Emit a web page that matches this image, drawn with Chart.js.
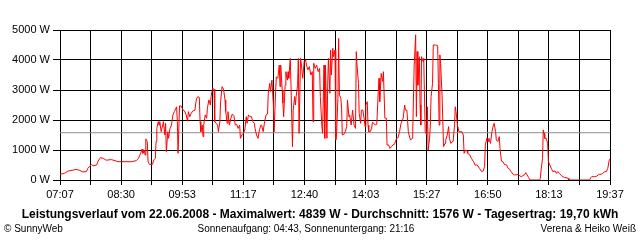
<!DOCTYPE html>
<html>
<head>
<meta charset="utf-8">
<script src="https://cdn.jsdelivr.net/npm/chart.js@4.4.0/dist/chart.umd.min.js"></script>
<style>
  body { margin: 0; background: #fff; }
</style>
</head>
<body>
<canvas id="powerChart" width="640" height="240"></canvas>
<script>
// time of day in minutes since midnight, power in W
const minutes = [
  427, 433, 438, 445, 449, 454, 458, 463, 465, 470, 472, 477, 479, 482, 486, 490,
  497, 502, 506, 511, 517, 524, 531, 534, 537, 539, 540, 542, 543, 544, 546, 547,
  549, 553, 555, 557, 558, 559, 561, 562, 563, 565, 567, 568, 570, 571, 572, 574,
  575, 577, 579, 581, 583, 586, 587, 588, 590, 592, 595, 597, 599, 601, 602, 604,
  606, 608, 611, 613, 615, 617, 618, 619, 621, 622, 623, 625, 627, 628, 630, 632,
  633, 635, 637, 638, 640, 642, 643, 645, 646, 648, 650, 652, 653, 655, 656, 658,
  660, 662, 664, 666, 668, 670, 672, 673, 675, 677, 679, 681, 682, 684, 686, 688,
  690, 692, 693, 695, 697, 699, 701, 702, 704, 706, 708, 710, 711, 713, 714, 716,
  718, 719, 721, 722, 724, 726, 727, 728, 730, 731, 732, 734, 735, 737, 738, 739,
  741, 742, 744, 745, 747, 748, 749, 751, 752, 753, 755, 756, 758, 760, 762, 763,
  765, 767, 769, 771, 772, 773, 775, 777, 779, 781, 782, 784, 785, 787, 788, 789,
  791, 792, 793, 795, 796, 797, 799, 800, 802, 803, 804, 806, 807, 808, 810, 811,
  812, 814, 816, 818, 819, 821, 822, 824, 826, 828, 830, 831, 832, 834, 835, 837,
  838, 840, 842, 843, 844, 846, 847, 848, 850, 852, 853, 855, 857, 859, 861, 862,
  863, 865, 867, 868, 870, 872, 873, 875, 877, 879, 881, 883, 886, 888, 890, 892,
  895, 897, 898, 900, 902, 903, 905, 907, 908, 910, 912, 913, 914, 915, 917, 918,
  919, 920, 922, 923, 925, 927, 928, 929, 931, 932, 933, 935, 936, 939, 942, 943,
  944, 945, 946, 948, 950, 952, 953, 955, 957, 958, 960, 962, 963, 965, 966, 967,
  969, 971, 972, 975, 977, 978, 980, 982, 983, 986, 988, 991, 993, 996, 999, 1002,
  1004, 1006, 1007, 1009, 1011, 1012, 1014, 1016, 1018, 1019, 1021, 1022, 1024, 1026, 1027, 1029,
  1031, 1033, 1036, 1038, 1040, 1042, 1045, 1047, 1049, 1052, 1054, 1056, 1058, 1061, 1062, 1064,
  1066, 1068, 1081, 1082, 1083, 1085, 1086, 1087, 1088, 1090, 1092, 1093, 1095, 1097, 1099, 1102,
  1104, 1106, 1108, 1111, 1113, 1115, 1117, 1120, 1121, 1149, 1151, 1152, 1156, 1159, 1161, 1163,
  1165, 1167, 1170, 1172, 1174, 1176, 1177
];

const watts = [
  190, 220, 300, 330, 355, 320, 270, 280, 390, 520, 470, 500, 630, 745, 720, 660,
  680, 645, 610, 610, 610, 610, 645, 720, 890, 1030, 890, 1000, 830, 1370, 1280, 630,
  520, 520, 670, 720, 1280, 1720, 1945, 1830, 1945, 1610, 1830, 1945, 1500, 1890, 945, 1610,
  1390, 1720, 1830, 2170, 2280, 2440, 1945, 890, 2470, 2470, 2330, 2300, 2170, 1960, 2280, 2110,
  2220, 2300, 2330, 2700, 2780, 2750, 1945, 1610, 1830, 1445, 1830, 2170, 2060, 2390, 2670, 2500,
  2780, 3055, 3030, 1945, 1890, 1830, 1610, 1945, 2610, 3110, 3030, 2670, 2280, 1890, 2280, 1830,
  2060, 2200, 2150, 1830, 1850, 1720, 1830, 1390, 1500, 1560, 1670, 2110, 1890, 2170, 2110, 2110,
  1945, 1890, 1720, 1500, 1390, 1670, 1830, 1830, 1610, 1945, 2170, 2200, 2890, 3220, 2950, 3330,
  2500, 1610, 2950, 3440, 3390, 3830, 3110, 3830, 3000, 2560, 2110, 3160, 3610, 3330, 3610, 3390,
  4055, 3160, 1110, 2330, 2780, 2500, 2780, 3160, 4055, 1555, 4055, 3890, 3390, 3950, 4000, 3830,
  3670, 3780, 3500, 3610, 1945, 3890, 3720, 3830, 3610, 3720, 2780, 1830, 1555, 3830, 1390, 3830,
  1390, 3110, 4055, 2890, 4330, 3500, 4390, 4110, 4330, 1330, 1445, 2720, 4720, 2830, 2720, 2390,
  1500, 1520, 1610, 1780, 2670, 2110, 2170, 1830, 2330, 1830, 1720, 4280, 3830, 3220, 2220, 1890,
  2330, 2330, 1995, 1780, 2500, 2610, 1830, 1610, 1610, 1720, 1920, 1890, 1830, 1860, 2950, 3390,
  2610, 3550, 3280, 3610, 2060, 2060, 1170, 1170, 1055, 1110, 1170, 1190, 1390, 1410, 1610, 1890,
  2060, 2500, 2330, 2330, 1610, 1500, 1330, 1390, 1610, 3830, 4839, 2110, 4280, 3160, 4110, 2500,
  1830, 4110, 3950, 4055, 1610, 1500, 2440, 1000, 1390, 1830, 2780, 3220, 4500, 4500, 4480, 3220,
  1830, 4170, 3890, 2830, 1110, 1220, 1330, 1500, 1780, 1390, 1220, 1280, 1280, 1830, 2440, 2280,
  1830, 1610, 1610, 1610, 1500, 890, 1000, 970, 890, 830, 720, 610, 500, 500, 390, 280,
  300, 450, 1170, 1390, 1280, 1390, 1220, 1610, 1830, 1890, 1610, 1330, 1280, 1445, 1055, 630,
  610, 520, 500, 390, 360, 280, 190, 170, 170, 190, 140, 110, 140, 190, 245, 170,
  80, 0, 0, 55, 330, 720, 1670, 1555, 1390, 1390, 1220, 610, 500, 390, 280, 300,
  220, 280, 220, 140, 110, 80, 80, 55, 0, 0, 80, 110, 110, 130, 170, 190,
  190, 220, 280, 280, 390, 670, 700
];

const average = 1576;
const yTicks = [0, 1000, 2000, 3000, 4000, 5000];
const xLabels = ["07:07", "08:30", "09:53", "11:17", "12:40", "14:03", "15:27", "16:50", "18:13", "19:37"];
const startMin = 427;  // 07:07
const endMin = 1177;   // 19:37

const titleText = "Leistungsverlauf vom 22.06.2008 - Maximalwert: 4839 W - Durchschnitt: 1576 W - Tagesertrag: 19,70 kWh";
const footerLeft = "\u00A9 SunnyWeb";
const footerCenter = "Sonnenaufgang: 04:43, Sonnenuntergang: 21:16";
const footerRight = "Verena & Heiko Wei\u00DF";

// a grid line every half label step
const xTicks = [];
for (let i = 0; i <= (xLabels.length - 1) * 2; i++) {
  xTicks.push(startMin + (i * (endMin - startMin)) / ((xLabels.length - 1) * 2));
}

const fontFamily = "'Liberation Sans', Arial, sans-serif";
Chart.defaults.font.family = fontFamily;
Chart.defaults.font.size = 11;
Chart.defaults.color = "#000";

const footerPlugin = {
  id: "footerText",
  afterDraw(chart) {
    const c = chart.ctx;
    c.save();
    c.fillStyle = "#000";
    c.textBaseline = "middle";
    c.font = "bold 12px " + fontFamily;
    c.textAlign = "center";
    c.fillText(titleText, 320, 215);
    c.font = "10px " + fontFamily;
    c.textAlign = "left";
    c.fillText(footerLeft, 4, 229);
    c.textAlign = "center";
    c.fillText(footerCenter, 306, 229);
    c.textAlign = "right";
    c.fillText(footerRight, 636, 229);
    c.restore();
  },
};

const ctx = document.getElementById("powerChart").getContext("2d");

const powerChart = new Chart(ctx, {
  type: "line",
  data: {
    datasets: [
      {
        label: "Leistung",
        data: minutes.map((m, i) => ({ x: m, y: watts[i] })),
        borderColor: "#ff0000",
        borderWidth: 1,
        pointRadius: 0,
        tension: 0,
        fill: false,
      },
      {
        label: "Durchschnitt",
        data: [
          { x: startMin, y: average },
          { x: endMin, y: average },
        ],
        borderColor: "#8c8c8c",
        borderWidth: 1,
        pointRadius: 0,
        fill: false,
      },
    ],
  },
  options: {
    responsive: false,
    animation: false,
    events: [],
    layout: {
      padding: { top: 30, right: 30, left: 0, bottom: 0 },
    },
    plugins: {
      legend: { display: false },
      tooltip: { enabled: false },
    },
    scales: {
      x: {
        type: "linear",
        min: startMin,
        max: endMin,
        afterBuildTicks(scale) {
          scale.ticks = xTicks.map((v) => ({ value: v }));
        },
        afterFit(scale) {
          scale.height = 60;
        },
        ticks: {
          autoSkip: false,
          maxRotation: 0,
          padding: 3,
          callback: (value, index) => (index % 2 === 0 ? xLabels[index / 2] : ""),
        },
        grid: {
          color: "#000",
          lineWidth: 1,
          tickLength: 5,
        },
        border: { color: "#000" },
      },
      y: {
        min: 0,
        max: 5000,
        afterBuildTicks(scale) {
          scale.ticks = yTicks.map((v) => ({ value: v }));
        },
        afterFit(scale) {
          scale.width = 60;
        },
        ticks: {
          padding: 3,
          callback: (value) => value + " W",
        },
        grid: {
          color: "#000",
          lineWidth: 1,
          tickLength: 7,
        },
        border: { color: "#000" },
      },
    },
  },
  plugins: [footerPlugin],
});
</script>
</body>
</html>
